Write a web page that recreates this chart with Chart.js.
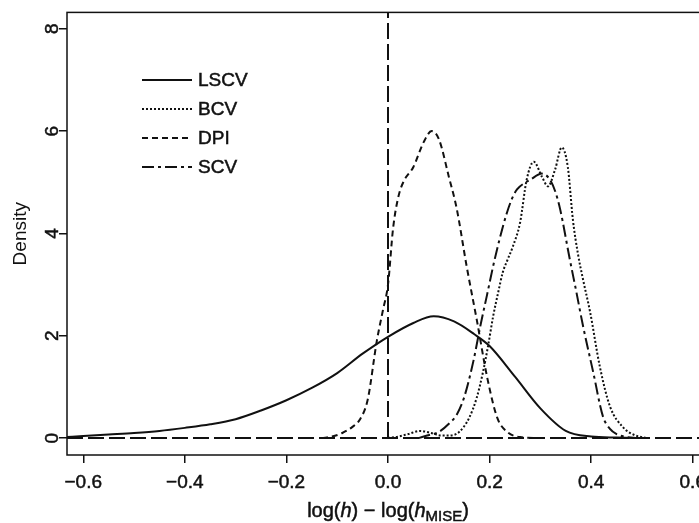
<!DOCTYPE html>
<html>
<head>
<meta charset="utf-8">
<script src="https://cdn.jsdelivr.net/npm/chart.js@4.4.1/dist/chart.umd.min.js"></script>
<style>
  html, body { margin: 0; padding: 0; background: #fff; overflow: hidden; }
  #wrap { position: absolute; left: 0; top: 0; width: 720px; height: 523px; }
</style>
</head>
<body>
<div id="wrap"><canvas id="myChart"></canvas></div>
<script>
'use strict';

// density estimates, x = log(h) - log(h_MISE)
var lscvX = [-0.632, -0.6, -0.55, -0.5, -0.45, -0.4, -0.35, -0.3, -0.25, -0.2, -0.15, -0.1, -0.05, 0, 0.05, 0.09, 0.13, 0.17, 0.2, 0.25, 0.3, 0.35, 0.4, 0.45, 0.5];
var lscvY = [0.02, 0.04, 0.07, 0.1, 0.14, 0.2, 0.27, 0.37, 0.54, 0.74, 0.98, 1.27, 1.65, 1.98, 2.25, 2.38, 2.28, 2.03, 1.8, 1.2, 0.58, 0.14, 0.03, 0.01, 0];

var bcvX = [0, 0.02, 0.04, 0.063, 0.085, 0.105, 0.12, 0.14, 0.16, 0.175, 0.187, 0.197, 0.207, 0.217, 0.226, 0.236, 0.246, 0.26, 0.273, 0.287, 0.303, 0.315, 0.329, 0.342, 0.354, 0.364, 0.374, 0.384, 0.398, 0.417, 0.437, 0.463, 0.485, 0.51];
var bcvY = [0, 0.03, 0.08, 0.14, 0.1, 0.05, 0.05, 0.12, 0.4, 0.8, 1.29, 1.8, 2.38, 2.85, 3.24, 3.5, 3.75, 4.21, 5.05, 5.4, 5.11, 4.92, 5.25, 5.68, 5.3, 4.27, 3.6, 3.1, 2.46, 1.4, 0.62, 0.21, 0.06, 0];

var dpiX = [-0.13, -0.11, -0.09, -0.07, -0.055, -0.04, -0.022, -0.01, 0, 0.01, 0.02, 0.03, 0.05, 0.07, 0.086, 0.1, 0.12, 0.135, 0.155, 0.175, 0.195, 0.215, 0.235, 0.26, 0.3];
var dpiY = [0, 0.03, 0.1, 0.22, 0.37, 0.75, 1.9, 2.5, 3.0, 4.1, 4.7, 5.0, 5.3, 5.78, 6.0, 5.85, 5.1, 4.5, 3.35, 2.3, 1.2, 0.4, 0.12, 0.02, 0];

var scvX = [0.06, 0.077, 0.1, 0.122, 0.135, 0.15, 0.168, 0.182, 0.195, 0.207, 0.22, 0.234, 0.245, 0.254, 0.268, 0.28, 0.303, 0.319, 0.33, 0.339, 0.358, 0.371, 0.384, 0.404, 0.423, 0.437, 0.45, 0.47, 0.49];
var scvY = [0, 0.05, 0.12, 0.3, 0.45, 0.8, 1.5, 2.2, 2.8, 3.36, 3.9, 4.4, 4.7, 4.86, 4.98, 5.05, 5.17, 5.05, 4.8, 4.47, 3.49, 2.85, 2.19, 1.29, 0.43, 0.18, 0.08, 0.02, 0];

var xTicks = [-0.6, -0.4, -0.2, 0, 0.2, 0.4, 0.6];
var yTicks = [0, 2, 4, 6, 8];
var xMin = -0.632, xMax = 0.632;
var yMin = -0.33, yMax = 8.32;

var FONT = "'Liberation Sans', Arial, sans-serif";
var INK = '#111';

function pts(xs, ys) {
  return xs.map(function (x, i) { return { x: x, y: ys[i] }; });
}

function curve(label, xs, ys, dash) {
  return {
    label: label,
    data: pts(xs, ys),
    borderColor: INK,
    borderWidth: 2,
    borderDash: dash,
    pointRadius: 0,
    fill: false,
    cubicInterpolationMode: 'monotone',
    inLegend: true
  };
}

function refLine(data) {
  return {
    label: '',
    data: data,
    borderColor: INK,
    borderWidth: 2,
    borderDash: [16, 5],
    pointRadius: 0,
    fill: false,
    tension: 0
  };
}

// draws text a bit heavier, like the printed original
function heavyText(ctx, txt, x, y) {
  ctx.fillText(txt, x, y);
  ctx.lineWidth = 0.5;
  ctx.strokeText(txt, x, y);
}

// box around the plot, legend in the corner and the x axis title
var extras = {
  id: 'extras',
  afterDraw: function (chart) {
    var ctx = chart.ctx;
    var a = chart.chartArea;
    ctx.save();
    ctx.strokeStyle = INK;
    ctx.fillStyle = INK;
    ctx.lineWidth = 1.5;
    ctx.setLineDash([]);
    ctx.strokeRect(a.left, a.top, a.right - a.left, a.bottom - a.top);

    // legend
    var rows = [80, 109, 138, 167];
    var k = 0;
    ctx.textBaseline = 'middle';
    chart.data.datasets.forEach(function (ds) {
      if (!ds.inLegend) return;
      var y = rows[k++];
      ctx.beginPath();
      ctx.setLineDash(ds.borderDash || []);
      ctx.lineWidth = 2;
      ctx.moveTo(142, y);
      ctx.lineTo(192, y);
      ctx.stroke();
      ctx.setLineDash([]);
      ctx.font = '19px ' + FONT;
      heavyText(ctx, ds.label, 198, y + 1);
    });

    // x title: log(h) − log(h_MISE)
    var parts = [
      ['log(', '20px ' + FONT, 0],
      ['h', 'italic 20px ' + FONT, 0],
      [') \u2212 log(', '20px ' + FONT, 0],
      ['h', 'italic 20px ' + FONT, 0],
      ['MISE', '15px ' + FONT, 4],
      [')', '20px ' + FONT, 0]
    ];
    var total = 0;
    parts.forEach(function (p) { ctx.font = p[1]; total += ctx.measureText(p[0]).width; });
    var x = (a.left + a.right) / 2 - total / 2;
    ctx.textBaseline = 'alphabetic';
    parts.forEach(function (p) {
      ctx.font = p[1];
      heavyText(ctx, p[0], x, 517 + p[2]);
      x += ctx.measureText(p[0]).width;
    });
    ctx.restore();
  }
};

var ctx = document.getElementById('myChart').getContext('2d');

var myChart = new Chart(ctx, {
  type: 'line',
  data: {
    datasets: [
      curve('LSCV', lscvX, lscvY, []),
      curve('BCV', bcvX, bcvY, [2, 2]),
      curve('DPI', dpiX, dpiY, [6, 4]),
      curve('SCV', scvX, scvY, [12, 4, 3, 4]),
      refLine([{ x: xMin, y: 0 }, { x: xMax, y: 0 }]),
      refLine([{ x: 0, y: 0 }, { x: 0, y: yMax }])
    ]
  },
  options: {
    responsive: true,
    maintainAspectRatio: false,
    animation: false,
    devicePixelRatio: 1,
    layout: {
      padding: { left: 0, top: 9.5, right: 11, bottom: 0 }
    },
    plugins: {
      legend: { display: false },
      tooltip: { enabled: false }
    },
    scales: {
      x: {
        type: 'linear',
        min: xMin,
        max: xMax,
        afterBuildTicks: function (s) { s.ticks = xTicks.map(function (v) { return { value: v }; }); },
        afterFit: function (s) { s.height = 68; },
        border: { display: false },
        grid: {
          drawOnChartArea: false,
          drawTicks: true,
          tickLength: 8,
          color: INK,
          lineWidth: 1.5
        },
        ticks: {
          padding: 8,
          color: INK,
          textStrokeColor: INK,
          textStrokeWidth: 0.5,
          maxRotation: 0,
          autoSkip: false,
          font: { family: FONT, size: 19 },
          callback: function (value) {
            if (Math.abs(value) < 1e-9) return '0.0';
            return (value < 0 ? '\u2212' : '') + Math.abs(value).toFixed(1);
          }
        }
      },
      y: {
        min: yMin,
        max: yMax,
        afterBuildTicks: function (s) { s.ticks = yTicks.map(function (v) { return { value: v }; }); },
        afterFit: function (s) { s.width = 67; },
        border: { display: false },
        grid: {
          drawOnChartArea: false,
          drawTicks: true,
          tickLength: 8,
          color: INK,
          lineWidth: 1.5
        },
        title: {
          display: true,
          text: 'Density',
          color: INK,
          padding: { top: 9, bottom: 0 },
          font: { family: FONT, size: 19 }
        },
        ticks: {
          padding: 1,
          color: INK,
          textStrokeColor: INK,
          textStrokeWidth: 0.5,
          minRotation: 90,
          maxRotation: 90,
          crossAlign: 'center',
          font: { family: FONT, size: 19 }
        }
      }
    }
  },
  plugins: [extras]
});
</script>
</body>
</html>
